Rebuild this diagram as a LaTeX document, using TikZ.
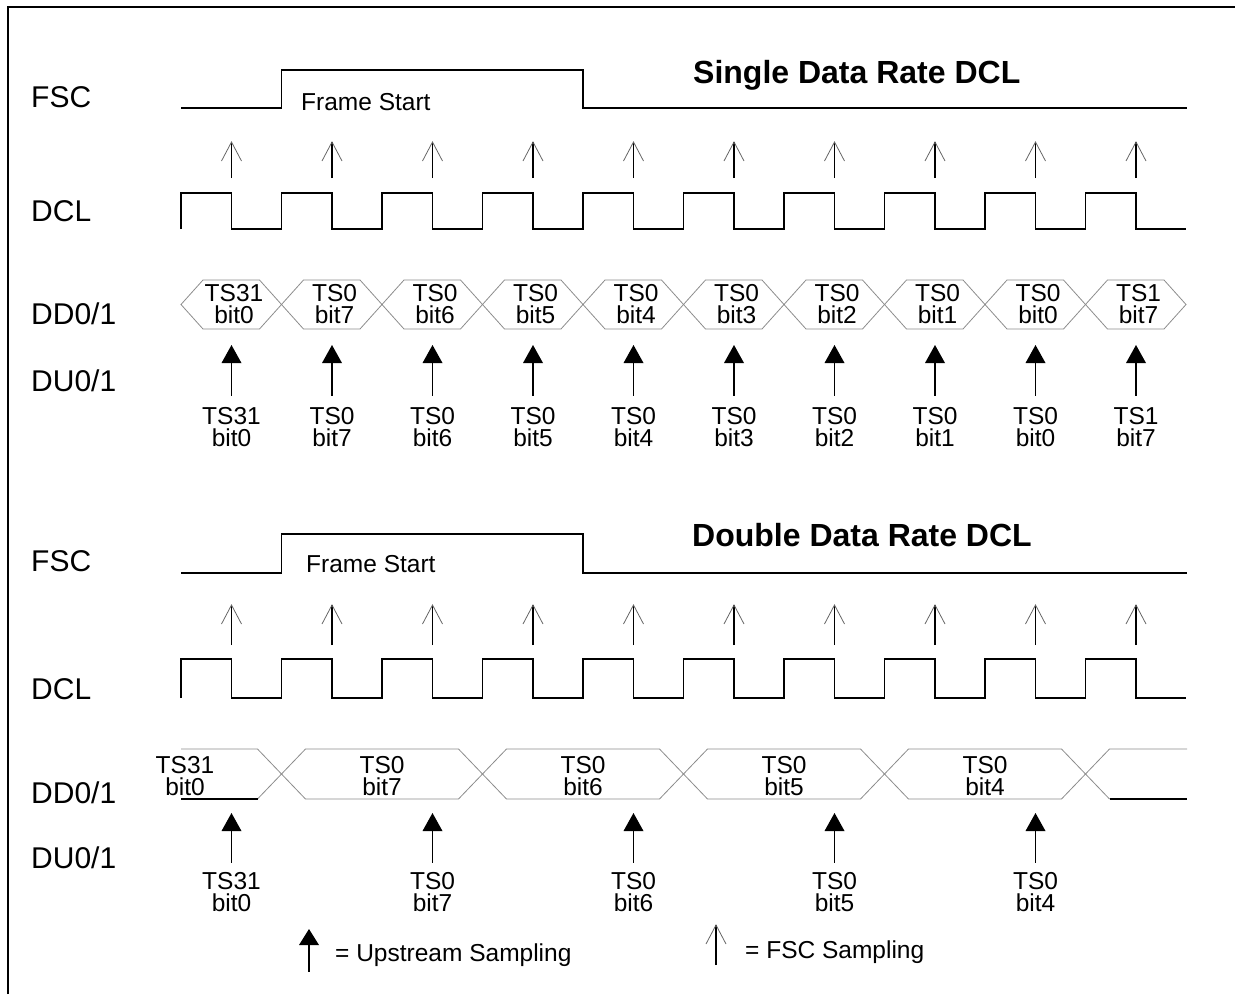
\documentclass[tikz,border=0pt]{standalone}
\usepackage{fontspec}
\setmainfont{Liberation Sans}
\usetikzlibrary{calc}
\begin{document}
\begin{tikzpicture}[x=1pt,y=-1pt,
  wave/.style={line width=1.4pt,black},
  hexline/.style={line width=0.8pt,black!45},
  hexdark/.style={line width=1.1pt,black},
  fscarr/.style={line width=1.1pt,black},
  wing/.style={line width=0.8pt,black!60},
  duarr/.style={line width=1.3pt,black},
  siglabel/.style={font=\fontsize{30}{30}\selectfont,anchor=base west,inner sep=0},
  small/.style={font=\fontsize{24.5}{22}\selectfont,align=center,inner sep=0},
  smallw/.style={font=\fontsize{24.5}{22}\selectfont,anchor=base west,inner sep=0},
  title/.style={font=\fontsize{32}{32}\selectfont\bfseries,anchor=base west,inner sep=0}]
\useasboundingbox (0,0) rectangle (1235,994);
% frame
\draw[line width=1.3pt] (8,994) -- (8,7) -- (1235,7);

% ================= Single data rate =================
\node[title] (t1) at (693,83.5) {Single Data Rate DCL};
\node[siglabel] (l1) at (31,107.5) {FSC};
\node[siglabel] (l2) at (31,221.5) {DCL};
\node[siglabel] (l3) at (31,324) {DD0/1};
\node[siglabel] (l4) at (31,391) {DU0/1};
\draw[wave] (181,108) -- (281.5,108) -- (281.5,70) -- (583,70) -- (583,108) -- (1187,108);
\node[smallw] (fs1) at (301,110) {Frame Start};
% FSC sampling arrows
\foreach \k in {0,...,9}{
  \pgfmathsetmacro\xx{231.5+100.5*\k}
  \draw[fscarr] (\xx,178) -- (\xx,142);
  \draw[wing] ({\xx-10},161) -- (\xx,142) -- ({\xx+10},161);
}
% DCL
\draw[wave] (181,229) foreach \k in {0,...,9}{ -- ({181+100.5*\k},193) -- ({231.5+100.5*\k},193) -- ({231.5+100.5*\k},229) -- ({281.5+100.5*\k},229)};
% DD hexagons
\foreach \k/\a/\b in {0/TS31/bit0,1/TS0/bit7,2/TS0/bit6,3/TS0/bit5,4/TS0/bit4,5/TS0/bit3,6/TS0/bit2,7/TS0/bit1,8/TS0/bit0,9/TS1/bit7}{
  \pgfmathsetmacro\L{181+100.5*\k}
  \pgfmathsetmacro\R{281.5+100.5*\k}
  \draw[hexline] (\L,304.5) -- ({\L+22},280) -- ({\R-22},280) -- (\R,304.5) -- ({\R-22},329) -- ({\L+22},329) -- cycle;
  \node[small] (sdd\k) at ({\L+53},304.5) {\a\\\b};
  \pgfmathsetmacro\xx{231.5+100.5*\k}
  \fill ({\xx-10},363) -- (\xx,345) -- ({\xx+10},363) -- cycle;
  \draw[duarr] (\xx,362) -- (\xx,396);
  \node[small] (sdu\k) at (\xx,427) {\a\\\b};
}

% ================= Double data rate =================
\node[title] (t2) at (692,546.5) {Double Data Rate DCL};
\node[siglabel] (m1) at (31,571) {FSC};
\node[siglabel] (m2) at (31,699) {DCL};
\node[siglabel] (m3) at (31,803) {DD0/1};
\node[siglabel] (m4) at (31,868) {DU0/1};
\draw[wave] (181,573) -- (281.5,573) -- (281.5,534) -- (583,534) -- (583,573) -- (1187,573);
\node[smallw] (fs2) at (306,572) {Frame Start};
\foreach \k in {0,...,9}{
  \pgfmathsetmacro\xx{231.5+100.5*\k}
  \draw[fscarr] (\xx,645) -- (\xx,605);
  \draw[wing] ({\xx-10},624) -- (\xx,605) -- ({\xx+10},624);
}
\draw[wave] (181,698) foreach \k in {0,...,9}{ -- ({181+100.5*\k},659) -- ({231.5+100.5*\k},659) -- ({231.5+100.5*\k},698) -- ({281.5+100.5*\k},698)};
% DD double
\draw[hexline] (181,749) -- (257.5,749) -- (281.5,774) -- (257.5,799);
\draw[hexdark] (181,799) -- (257.5,799);
\foreach \k in {0,...,3}{
  \pgfmathsetmacro\L{281.5+201*\k}
  \pgfmathsetmacro\R{482.5+201*\k}
  \draw[hexline] (\L,774) -- ({\L+24},749) -- ({\R-24},749) -- (\R,774) -- ({\R-24},799) -- ({\L+24},799) -- cycle;
}
\draw[hexline] (1187,749) -- (1109.5,749) -- (1085.5,774) -- (1109.5,799);
\draw[hexdark] (1109.5,799) -- (1187,799);
\node[small] (ddd0) at (185,776) {TS31\\bit0};
\node[small] (ddd1) at (382,776) {TS0\\bit7};
\node[small] (ddd2) at (583,776) {TS0\\bit6};
\node[small] (ddd3) at (784,776) {TS0\\bit5};
\node[small] (ddd4) at (985,776) {TS0\\bit4};
\foreach \k/\a/\b in {0/TS31/bit0,1/TS0/bit7,2/TS0/bit6,3/TS0/bit5,4/TS0/bit4}{
  \pgfmathsetmacro\xx{231.5+201*\k}
  \fill ({\xx-10},831) -- (\xx,813) -- ({\xx+10},831) -- cycle;
  \draw[duarr] (\xx,830) -- (\xx,863);
  \node[small] (ddu\k) at (\xx,892) {\a\\\b};
}

% ================= Legend =================
\coordinate (ua) at (309,929);
\coordinate (ub) at (309,972);
\fill ($(ua)+(-10,16)$) -- (ua) -- ($(ua)+(10,16)$) -- cycle;
\draw[duarr] ($(ua)+(0,15)$) -- (ub);
\node[smallw] (leg1) at (335,961) {= Upstream Sampling};
\coordinate (fa) at (716,925);
\coordinate (fb) at (716,965);
\draw[fscarr] (fb) -- (fa);
\draw[wing] ($(fa)+(-10,19)$) -- (fa) -- ($(fa)+(10,19)$);
\node[smallw] (leg2) at (745,958) {= FSC Sampling};
\end{tikzpicture}
\end{document}
